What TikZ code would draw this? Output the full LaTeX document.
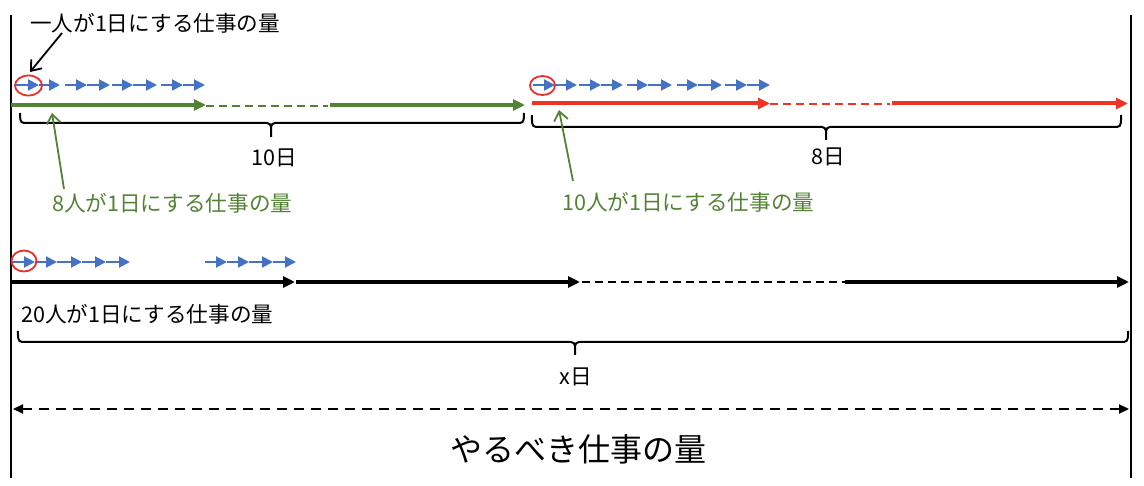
\documentclass[tikz,border=0pt]{standalone}
\usepackage{fontspec}
\setmainfont{Noto Sans CJK JP}
\usetikzlibrary{arrows.meta}
\definecolor{blueC}{HTML}{4472C4}
\definecolor{greenC}{HTML}{548235}
\definecolor{redC}{HTML}{EE3424}
\definecolor{ringC}{HTML}{E8302A}
\newcommand\mybrace[6]{% x1, x2, xm, y, top, tickbottom
  \draw[bracel] (#1,#5) to[out=-90,in=180] (#1+4,#4) -- (#3-4,#4) to[out=0,in=90] (#3,#4+4) -- (#3,#6);
  \draw[bracel] (#2,#5) to[out=-90,in=0] (#2-4,#4) -- (#3+4,#4) to[out=180,in=90] (#3,#4+4);}
\tikzset{
  bluearr/.style={draw=blueC, line width=2pt, -{Triangle[length=11pt,width=11pt]}},
  ring/.style={draw=ringC, line width=1.8pt},
  thickarr/.style={line width=4pt, -{Triangle[length=12pt,width=11pt]}},
  thickline/.style={line width=4pt},
  thindash/.style={line width=2pt, dash pattern=on 8pt off 5pt},
  bracel/.style={draw=black, line width=2pt},
  vline/.style={draw=black, line width=2pt},
  pointer/.style={line width=1.8pt, -{Straight Barb[length=9pt,width=14pt]}},
  lbl/.style={inner sep=0pt, font=\fontsize{21.6}{26}\selectfont},
}
\begin{document}
\begin{tikzpicture}[x=1pt,y=-1pt]
\useasboundingbox (0,0) rectangle (1144,486);
% vertical borders
\draw[vline] (11,15) -- (11,478);
\draw[vline] (1131,15) -- (1131,478);
% ---- row 1 (8 people) ----
\foreach \a/\b in {15/39,39/60,65/87,87/110,112/133,133/157,161/183,183/205}
  \draw[bluearr] (\a,85) -- (\b,85);
\draw[ring] (28.5,85.5) ellipse [x radius=13.5, y radius=10];
\draw[thickarr, greenC] (11,105) -- (206,105);
\draw[thindash, greenC] (206,106.5) -- (328,106.5);
\draw[thickarr, greenC] (330,105) -- (525,105);
\mybrace{20}{524}{271}{123}{113}{137}
\node[lbl] (d10) at (274,158) {10日};
% ---- row 2 (10 people) ----
\foreach \a/\b in {533/555,555/577,579/601,601/623,627/648,648/672,677/698,698/722,725/747,747/770}
  \draw[bluearr] (\a,85) -- (\b,85);
\draw[ring] (542.5,85.5) ellipse [x radius=12.5, y radius=9.5];
\draw[thickarr, redC] (532,103.5) -- (770,103.5);
\draw[thindash, redC] (770,104.5) -- (890,104.5);
\draw[thickarr, redC] (892,103.5) -- (1128,103.5);
\mybrace{532}{1121}{826}{127}{115}{140}
\node[lbl] (d8) at (828,157) {8日};
% ---- labels and pointers ----
\node[lbl, anchor=west] (one) at (30,23) {一人が1日にする仕事の量};
\coordinate (oneS) at (62,33);
\coordinate (oneE) at (30,72);
\draw[pointer, black] (oneS) -- (oneE);
\node[lbl, anchor=west, text=greenC] (eight) at (52,203) {8人が1日にする仕事の量};
\coordinate (eightS) at (64,189);
\coordinate (eightE) at (52,113);
\draw[pointer, greenC] (eightS) -- (eightE);
\node[lbl, anchor=west, text=greenC] (ten) at (562,202) {10人が1日にする仕事の量};
\coordinate (tenS) at (573,181);
\coordinate (tenE) at (559,110);
\draw[pointer, greenC] (tenS) -- (tenE);
% ---- row 3 (20 people) ----
\foreach \a/\b in {12/35,35/57,57/82,82/106,106/130,205/227,227/249,249/273,273/296}
  \draw[bluearr] (\a,262) -- (\b,262);
\draw[ring] (24,261) ellipse [x radius=12.5, y radius=10.5];
\draw[thickarr, black] (11,282) -- (295,282);
\draw[thickarr, black] (296,282) -- (580,282);
\draw[thindash, black, line width=2.5pt] (582,282) -- (845,282);
\draw[thickarr, black] (845,282) -- (1129,282);
\node[lbl, anchor=west] (twenty) at (21,314) {20人が1日にする仕事の量};
\mybrace{18}{1128}{575}{342}{331}{355}
\node[lbl] (dx) at (576,377) {x日};
% ---- total ----
\draw[line width=2.2pt, dash pattern=on 10pt off 7pt, {Triangle[length=10pt,width=9pt]}-{Triangle[length=10pt,width=9pt]}] (13,409) -- (1129,409);
\node[inner sep=0pt, font=\fontsize{32}{38}\selectfont] (total) at (578,449) {やるべき仕事の量};
\end{tikzpicture}
\end{document}
